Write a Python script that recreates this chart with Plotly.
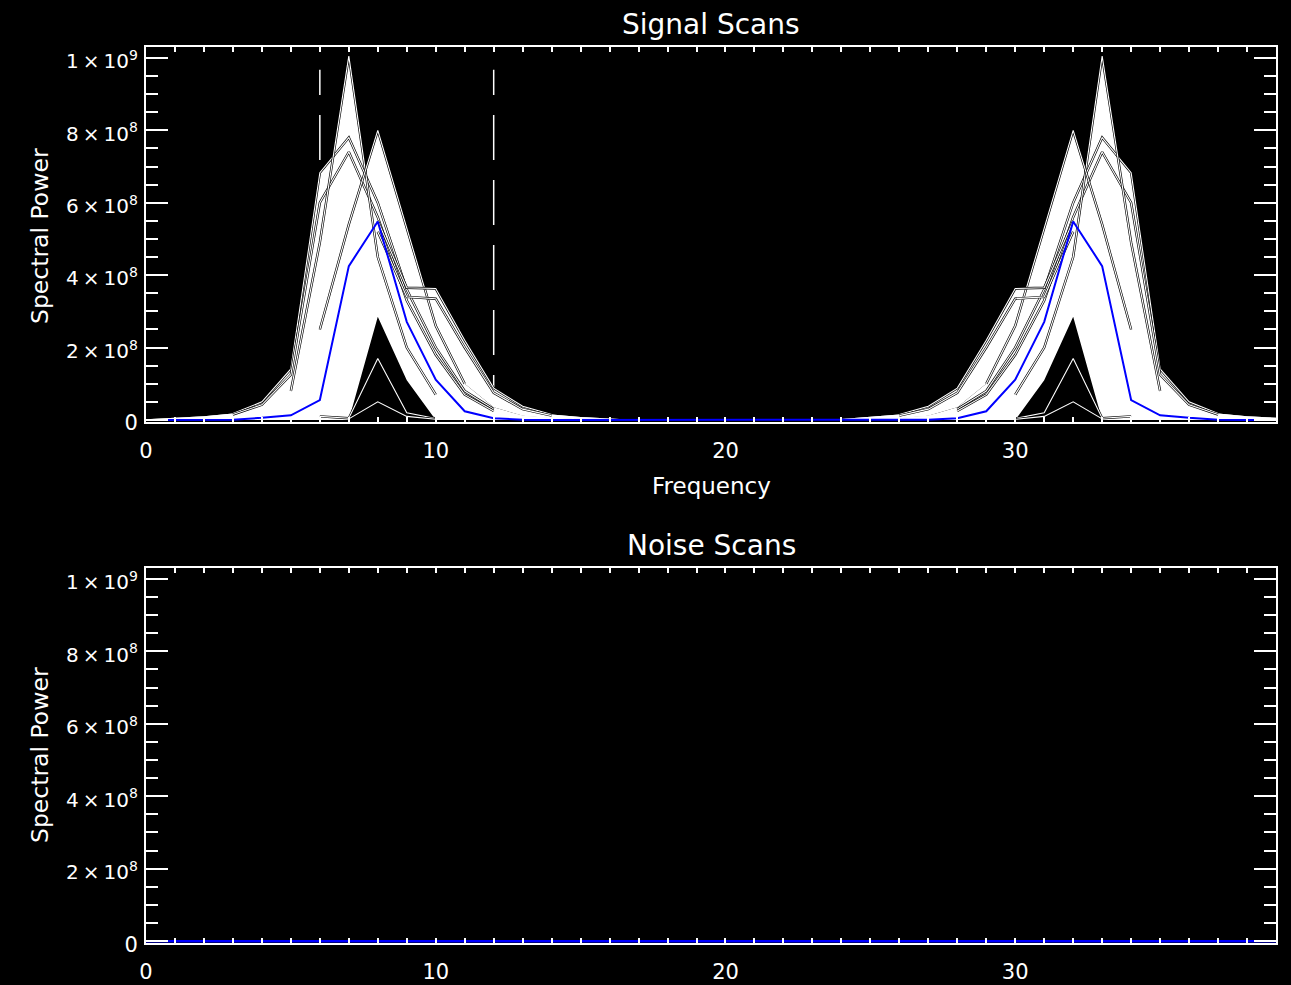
import plotly.graph_objects as go

# ---------------- data (power in units of 1e9) ----------------
UNIT = 1e9
freq = list(range(40))

mean_signal = [0, 0, 0, 0.001, 0.006, 0.013, 0.055, 0.425, 0.548, 0.271, 0.111, 0.024, 0.005, 0.001, 0, 0, 0, 0, 0, 0, 0,
               0, 0, 0, 0, 0, 0, 0.001, 0.005, 0.024, 0.111, 0.271, 0.548, 0.425, 0.055, 0.013, 0.006, 0.001, 0, 0]

scan_a = [0.002, 0.006, 0.010, 0.018, 0.050, 0.141, 0.683, 0.78, 0.60, 0.36, 0.20, 0.08, 0.03, 0.012, 0.006, 0.003, 0, 0, 0, 0, 0,
          0, 0, 0, 0, 0.003, 0.006, 0.012, 0.03, 0.08, 0.20, 0.36, 0.60, 0.78, 0.683, 0.141, 0.050, 0.018, 0.010, 0.006]
scan_a2 = [0.002, 0.005, 0.009, 0.015, 0.042, 0.125, 0.60, 0.74, 0.56, 0.33, 0.18, 0.07, 0.025, 0.010, 0.005, 0.002, 0, 0, 0, 0, 0,
           0, 0, 0, 0, 0.002, 0.005, 0.010, 0.025, 0.07, 0.18, 0.33, 0.56, 0.74, 0.60, 0.125, 0.042, 0.015, 0.009, 0.005]
scan_p = [0.001, 0.003, 0.006, 0.010, 0.030, 0.080, 0.49, 1.005, 0.45, 0.20, 0.07, 0.02, 0.008, 0.003, 0.001, 0, 0, 0, 0, 0, 0,
          0, 0, 0, 0, 0, 0.001, 0.003, 0.008, 0.02, 0.07, 0.20, 0.45, 1.005, 0.49, 0.080, 0.030, 0.010, 0.006, 0.003]
scan_q = [0.001, 0.002, 0.004, 0.008, 0.020, 0.050, 0.25, 0.54, 0.80, 0.53, 0.26, 0.10, 0.035, 0.012, 0.005, 0.002, 0, 0, 0, 0, 0,
          0, 0, 0, 0, 0.002, 0.005, 0.012, 0.035, 0.10, 0.26, 0.53, 0.80, 0.54, 0.25, 0.050, 0.020, 0.008, 0.004, 0.002]
scan_b = [0.001, 0.002, 0.004, 0.008, 0.020, 0.050, 0.20, 0.45, 0.55, 0.365, 0.363, 0.22, 0.088, 0.038, 0.015, 0.008, 0.003, 0, 0, 0, 0,
          0, 0, 0, 0.003, 0.008, 0.015, 0.038, 0.088, 0.22, 0.363, 0.365, 0.55, 0.45, 0.20, 0.050, 0.020, 0.008, 0.004, 0.002]
scan_b2 = [0.001, 0.002, 0.003, 0.007, 0.018, 0.045, 0.18, 0.42, 0.52, 0.34, 0.335, 0.20, 0.075, 0.030, 0.012, 0.006, 0.002, 0, 0, 0, 0,
           0, 0, 0, 0.002, 0.006, 0.012, 0.030, 0.075, 0.20, 0.335, 0.34, 0.52, 0.42, 0.18, 0.045, 0.018, 0.007, 0.003, 0.002]
scan_low = [0, 0, 0, 0, 0, 0, 0, 0, 0.285, 0.11, 0, 0, 0, 0, 0, 0, 0, 0, 0, 0, 0,
            0, 0, 0, 0, 0, 0, 0, 0, 0, 0, 0.11, 0.285, 0, 0, 0, 0, 0, 0, 0]
scan_t1 = [0, 0, 0, 0, 0, 0.005, 0.01, 0.005, 0.17, 0.02, 0.004, 0, 0, 0, 0, 0, 0, 0, 0, 0, 0,
           0, 0, 0, 0, 0, 0, 0, 0, 0, 0.004, 0.02, 0.17, 0.005, 0.01, 0.005, 0, 0, 0, 0]
scan_t2 = [0, 0, 0, 0, 0, 0, 0, 0.003, 0.05, 0.01, 0.002, 0, 0, 0, 0, 0, 0, 0, 0, 0, 0,
           0, 0, 0, 0, 0, 0, 0, 0, 0, 0.002, 0.01, 0.05, 0.003, 0, 0, 0, 0, 0, 0, 0]

noise_mean = [0.0] * 40

band_edges = [6, 12]
band_top = 0.967

y_tickvals = [0, 0.2, 0.4, 0.6, 0.8, 1.0]
y_ticktext = ["0", "2\u2009×\u200910<sup>8</sup>", "4\u2009×\u200910<sup>8</sup>", "6\u2009×\u200910<sup>8</sup>",
              "8\u2009×\u200910<sup>8</sup>", "1\u2009×\u200910<sup>9</sup>"]
x_tickvals = [0, 10, 20, 30]

# ---------------- figure ----------------
FONT = "DejaVu Sans"
W, H = 1291, 985
ML, MR, MT, MB = 146, 15, 47, 42
PH = H - MT - MB

def sc(a):
    return [v * UNIT for v in a]

fig = go.Figure()

# band markers
for xe in band_edges:
    fig.add_trace(go.Scatter(x=[xe, xe], y=sc([0, band_top]), mode="lines",
                             line=dict(color="white", width=1.5, dash="45px,20px"),
                             xaxis="x", yaxis="y", showlegend=False, hoverinfo="skip"))

# white envelope built as chained fills
chain = [scan_low, scan_a, scan_a2, scan_p, scan_q, scan_b, scan_b2]
for i, s in enumerate(chain):
    fig.add_trace(go.Scatter(x=freq, y=sc(s), mode="lines", line=dict(width=0, color="white"),
                             fill=None if i == 0 else "tonexty", fillcolor="white",
                             xaxis="x", yaxis="y", showlegend=False, hoverinfo="skip"))

# individual scan lines (white with dark borders)
outlined = [(scan_a, 3, 12), (scan_a2, 3, 12), (scan_p, 5, 10), (scan_q, 6, 11),
            (scan_b, 8, 14), (scan_b2, 8, 14), (scan_t1, 6, 10), (scan_t2, 7, 10)]
for s, lo, hi in outlined:
    for a, b in [(lo, hi), (40 - hi, 40 - lo)]:
        xs = freq[a:b + 1]
        ys = sc(s[a:b + 1])
        fig.add_trace(go.Scatter(x=xs, y=ys, mode="lines", line=dict(color="black", width=2.4),
                                 xaxis="x", yaxis="y", showlegend=False, hoverinfo="skip"))
        fig.add_trace(go.Scatter(x=xs, y=ys, mode="lines", line=dict(color="white", width=1.1),
                                 xaxis="x", yaxis="y", showlegend=False, hoverinfo="skip"))

# mean
fig.add_trace(go.Scatter(x=freq, y=sc(mean_signal), mode="lines", line=dict(color="#0000ff", width=2),
                         xaxis="x", yaxis="y", showlegend=False, hoverinfo="skip"))
fig.add_trace(go.Scatter(x=freq, y=sc(noise_mean), mode="lines", line=dict(color="#0000ff", width=2.5),
                         xaxis="x2", yaxis="y2", showlegend=False, hoverinfo="skip"))

top_h = 374.8
bot_h = 375.0
top_dom = [1 - top_h / PH, 1]
bot_dom = [0, bot_h / PH]

def xax(anchor):
    return dict(domain=[0, 1], range=[0, 39], anchor=anchor, tickvals=x_tickvals, automargin=False,
                ticks="inside", ticklen=5, tickwidth=1.5, tickcolor="white",
                minor=dict(dtick=1, tick0=0, ticks="inside", ticklen=5, tickwidth=1.5, tickcolor="white"),
                showline=True, linecolor="white", linewidth=2, mirror="ticks",
                showgrid=False, zeroline=False, ticklabelstandoff=9,
                tickfont=dict(family=FONT, size=21, color="white"))

def yax(anchor, dom):
    return dict(domain=dom, range=[-0.005 * UNIT, 1.03 * UNIT], anchor=anchor, automargin=False,
                tickvals=sc(y_tickvals),
                ticktext=[t if t == "0" else "<span style='font-size:20px'>" + t + "</span>" for t in y_ticktext],
                ticks="inside", ticklen=22, tickwidth=1.5, tickcolor="white",
                minor=dict(dtick=0.05 * UNIT, tick0=0, ticks="inside", ticklen=12, tickwidth=1.5, tickcolor="white"),
                showline=True, linecolor="white", linewidth=2, mirror="ticks",
                showgrid=False, zeroline=False, ticklabelstandoff=2, ticklabelshift=3,
                tickfont=dict(family=FONT, size=21, color="white"))

def py(pix):
    return (H - MB - pix) / PH

def px(pix):
    return (pix - ML) / (W - ML - MR)

ann = [
    dict(text="Signal Scans", x=0.5, y=py(24), size=28),
    dict(text="Frequency", x=0.5, y=py(486), size=23),
    dict(text="Noise Scans", x=0.5, y=py(545), size=28),
]
annotations = [dict(text=a["text"], x=a["x"], y=a["y"], xref="paper", yref="paper", showarrow=False,
                    xanchor="center", yanchor="middle", font=dict(family=FONT, size=a["size"], color="white"))
               for a in ann]
for yc in [236, 755]:
    annotations.append(dict(text="Spectral Power", x=px(40), y=py(yc), xref="paper", yref="paper",
                            showarrow=False, textangle=-90, xanchor="center", yanchor="middle",
                            font=dict(family=FONT, size=23.5, color="white")))

fig.update_layout(
    width=W, height=H, margin=dict(l=ML, r=MR, t=MT, b=MB, autoexpand=False),
    paper_bgcolor="black", plot_bgcolor="black",
    xaxis=xax("y"), yaxis=yax("x", top_dom),
    xaxis2=xax("y2"), yaxis2=yax("x2", bot_dom),
    annotations=annotations, showlegend=False,
)

fig.write_html("out.html")
